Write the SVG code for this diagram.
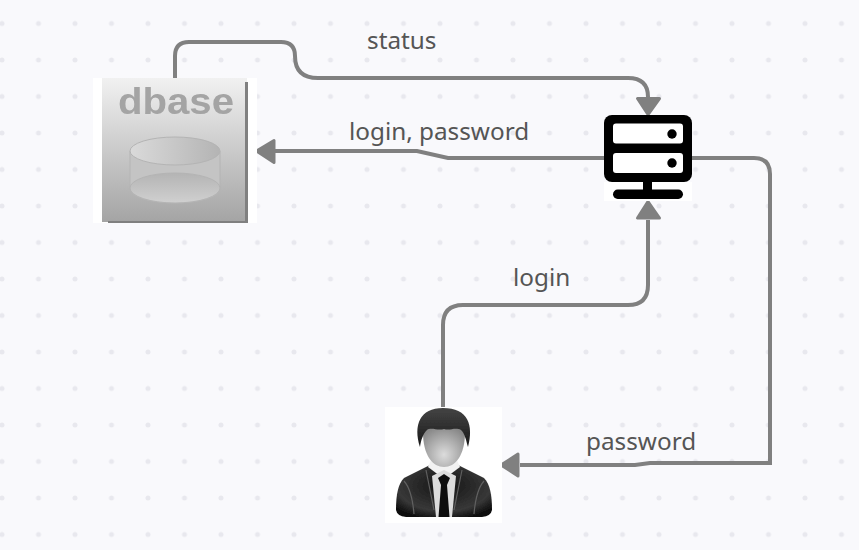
<svg xmlns="http://www.w3.org/2000/svg" width="859" height="550" viewBox="0 0 859 550">
<style>
.c{fill:none;stroke:#808080;stroke-width:4}
.h{fill:#808080;stroke:#808080;stroke-width:3;stroke-linejoin:round}
.t{font-family:"Noto Sans","Open Sans",sans-serif;font-size:24.300px;fill:#555}
</style>
<defs>
<pattern id="dots" patternUnits="userSpaceOnUse" x="2" y="23.5" width="36.5" height="36.5">
<circle cx="0" cy="0" r="2.5" fill="#e8e8ee"/><circle cx="36.5" cy="0" r="2.5" fill="#e8e8ee"/><circle cx="0" cy="36.5" r="2.5" fill="#e8e8ee"/><circle cx="36.5" cy="36.5" r="2.5" fill="#e8e8ee"/>
</pattern>
<filter id="soft" x="-5%" y="-5%" width="110%" height="110%"><feGaussianBlur stdDeviation="0.6"/></filter>
<linearGradient id="box" x1="0" y1="0" x2="0" y2="1"><stop offset="0" stop-color="#f1f1f1"/><stop offset="1" stop-color="#a4a4a4"/></linearGradient>
<linearGradient id="cyl" x1="0" y1="0" x2="1" y2="0"><stop offset="0" stop-color="#dadada"/><stop offset="1" stop-color="#b4b4b4"/></linearGradient>
<linearGradient id="cyl2" x1="0" y1="0" x2="0" y2="1"><stop offset="0" stop-color="#b4b4b4"/><stop offset="1" stop-color="#d0d0d0"/></linearGradient>
<radialGradient id="face" cx="0.5" cy="0.72" r="0.65"><stop offset="0" stop-color="#dcdcdc"/><stop offset="1" stop-color="#888"/></radialGradient>
<radialGradient id="suit" cx="0.5" cy="0.4" r="0.65"><stop offset="0" stop-color="#141414"/><stop offset="0.75" stop-color="#383838"/><stop offset="1" stop-color="#101010"/></radialGradient>
<linearGradient id="hair" x1="0" y1="0" x2="0" y2="1"><stop offset="0" stop-color="#444"/><stop offset="1" stop-color="#181818"/></linearGradient>
</defs>
<rect width="859" height="550" fill="#f9f9fc"/>
<rect width="859" height="550" fill="url(#dots)"/>
<g id="connectors">
<path class="c" d="M175 78V56Q175 42 189 42H281Q295 42 295 56Q295 78 318 78H628Q648 78 648 97"/>
<path class="h" d="M648 114.500L637.500 98.500H659.500Z"/>
<path class="c" d="M604 158H448L417 151H275"/>
<path class="h" d="M256.500 151L274 140.500V162.500Z"/>
<path class="c" d="M443 407V325Q443 305 463 305H628Q648 305 648 285V220"/>
<path class="h" d="M648 201.500L637.500 218H659.500Z"/>
<path class="c" d="M692 158H754Q770 158 770 174V463H650L635 465H520"/>
<path class="h" d="M501 465L518 454V476Z"/>
</g>
<g id="dbase">
<rect x="93" y="78" width="164" height="145" fill="#fff"/>
<rect x="102" y="78" width="145" height="144" fill="url(#box)"/>
<path d="M245 82H248V223H108V221H245Z" fill="#808080"/>
<path d="M130 151V188C130 197 150 203 175 203S220 197 220 188V151" fill="#c4c4c4" stroke="#b4b4b4"/>
<ellipse cx="175" cy="188" rx="45" ry="15" fill="url(#cyl2)" stroke="#b4b4b4"/>
<ellipse cx="175" cy="151" rx="45" ry="14" fill="url(#cyl)" stroke="#b4b4b4"/>
<text x="176" y="114" text-anchor="middle" textLength="116" lengthAdjust="spacingAndGlyphs" font-family="Liberation Sans,Arial,sans-serif" font-weight="700" font-size="36px" fill="#a4a4a4" filter="url(#soft)">dbase</text>
</g>
<g id="server">
<rect x="604" y="182" width="88" height="19" fill="#fff"/>
<rect x="604" y="115" width="88" height="67" rx="8" fill="#000"/>
<rect x="613" y="123.500" width="70" height="20" rx="3" fill="#fff"/>
<rect x="613" y="153" width="70" height="20" rx="3" fill="#fff"/>
<circle cx="672" cy="134" r="4.700" fill="#000"/>
<circle cx="672" cy="163" r="4.700" fill="#000"/>
<rect x="643" y="182" width="9" height="14" fill="#000"/>
<rect x="613" y="189.500" width="70" height="9.500" rx="4.700" fill="#000"/>
</g>
<g id="user">
<rect x="385" y="407" width="117" height="116" fill="#fff"/>
<g filter="url(#soft)">
<path d="M396 510C396 495 398 484 404 478L430 465H458L484 478C490 484 492 495 492 510Q491 516 482 517H406Q397 516 396 510Z" fill="url(#suit)"/>
<path d="M404 481Q412 490 414 514M484 481Q476 490 474 514M426 470L434 510M462 470L454 510" fill="none" stroke="#606060" stroke-width="1.200"/>
<path d="M428 467L444 479L460 467L456 458H432Z" fill="#f2f2f2"/>
<path d="M432 476L436 517H452L456 476L444 470Z" fill="#dcdcdc"/>
<path d="M438 478L444 474L450 478L447 485L449.500 517H438.500L441 485Z" fill="#111"/>
<path d="M423 432C423 456 433 467 444 467C455 467 465 456 465 432C465 420 423 420 423 432Z" fill="url(#face)"/>
<path d="M420 447C413 425 420 408 443 408C468 408 474 425 468 447C466 440 465 434 461 430C455 427 450 431 444 429C438 431 431 427 427 430C423 434 421 440 420 447Z" fill="url(#hair)"/>
</g>
</g>
<g id="labels">
<text class="t" x="367" y="49">status</text>
<text class="t" x="349" y="140">login, password</text>
<text class="t" x="513" y="286">login</text>
<text class="t" x="586" y="450">password</text>
</g>
</svg>
